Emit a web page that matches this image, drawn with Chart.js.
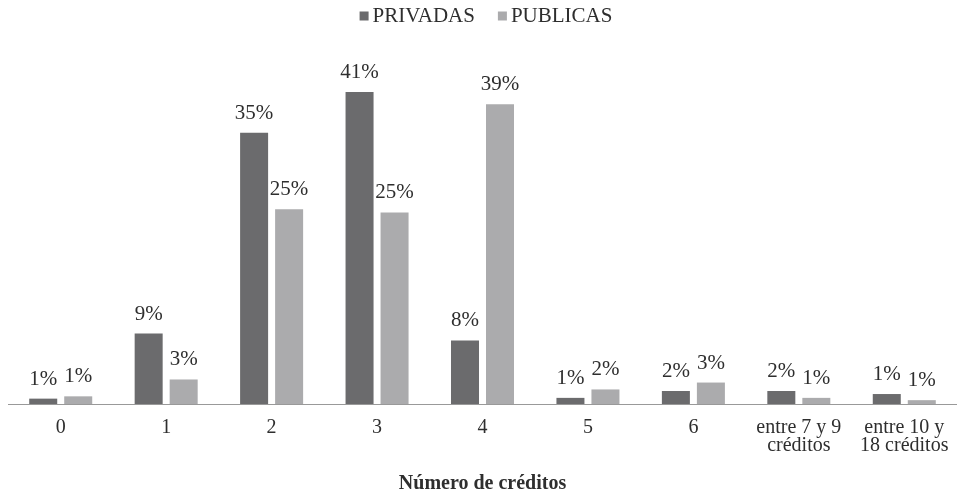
<!DOCTYPE html>
<html>
<head>
<meta charset="utf-8">
<script src="https://cdn.jsdelivr.net/npm/chart.js@4.4.1/dist/chart.umd.min.js"></script>
<style>
html,body{margin:0;padding:0;background:#fff;}
#wrap{width:957px;height:492px;position:relative;}
</style>
</head>
<body>
<div id="wrap"><canvas id="c" width="957" height="492"></canvas></div>
<script>
const categories = ["0", "1", "2", "3", "4", "5", "6", ["entre 7 y 9", "créditos"], ["entre 10 y", "18 créditos"]];
const privadas = [0.7, 9.2, 35.4, 40.7, 8.3, 0.8, 1.7, 1.7, 1.3];
const publicas = [1.0, 3.2, 25.4, 25.0, 39.1, 1.9, 2.8, 0.8, 0.5];
const seriesNames = ["PRIVADAS", "PUBLICAS"];
const yMax = 47.5;

const FONT = "'Liberation Serif', 'Times New Roman', serif";
const TEXT = "#2e2e2e";

const valueLabels = {
  id: 'valueLabels',
  afterDatasetsDraw(chart) {
    const ctx = chart.ctx;
    ctx.save();
    ctx.font = "21px " + FONT;
    ctx.fillStyle = TEXT;
    ctx.textAlign = 'center';
    ctx.textBaseline = 'bottom';
    chart.data.datasets.forEach((ds, i) => {
      const meta = chart.getDatasetMeta(i);
      meta.data.forEach((bar, j) => {
        const v = ds.data[j];
        ctx.fillText(Math.round(v) + '%', bar.x, bar.y - 9);
      });
    });
    ctx.restore();
  }
};

const topLegend = {
  id: 'topLegend',
  afterDraw(chart) {
    const ctx = chart.ctx;
    ctx.save();
    ctx.font = "21px " + FONT;
    ctx.textBaseline = 'middle';
    ctx.textAlign = 'left';
    const box = 9, gap = 4, spacing = 23;
    const items = chart.data.datasets.map(ds => ({ text: ds.label, color: ds.backgroundColor, w: ctx.measureText(ds.label).width }));
    let total = 0;
    items.forEach((it, i) => { total += box + gap + it.w + (i < items.length - 1 ? spacing : 0); });
    let x = 486 - total / 2;
    const cy = 16;
    items.forEach(it => {
      ctx.fillStyle = it.color;
      ctx.fillRect(x, cy - box / 2, box, box);
      x += box + gap;
      ctx.fillStyle = TEXT;
      ctx.fillText(it.text, x, cy);
      x += it.w + spacing;
    });
    ctx.restore();
  }
};

new Chart(document.getElementById('c'), {
  type: 'bar',
  data: {
    labels: categories,
    datasets: [
      { label: seriesNames[0], data: privadas, backgroundColor: '#6b6b6d', categoryPercentage: 0.664, barPercentage: 0.8 },
      { label: seriesNames[1], data: publicas, backgroundColor: '#ababad', categoryPercentage: 0.664, barPercentage: 0.8 }
    ]
  },
  options: {
    responsive: false,
    animation: false,
    layout: { padding: { left: 8, right: 0, top: 40, bottom: 0 } },
    plugins: {
      legend: { display: false },
      tooltip: { enabled: false }
    },
    scales: {
      x: {
        grid: { display: false },
        border: { display: true, color: '#999999', width: 1 },
        ticks: { color: TEXT, font: { family: FONT, size: 20, lineHeight: 0.9 }, padding: 7, maxRotation: 0, autoSkip: false },
        title: { display: true, text: 'Número de créditos', color: TEXT, font: { family: FONT, size: 20, weight: 'bold', lineHeight: 1.0 }, padding: { top: 4, bottom: -2 } },
        afterFit(scale) { scale.height = 88; scale.paddingLeft = 0; scale.paddingRight = 0; }
      },
      y: {
        display: false,
        min: 0,
        max: yMax
      }
    }
  },
  plugins: [valueLabels, topLegend]
});
</script>
</body>
</html>
